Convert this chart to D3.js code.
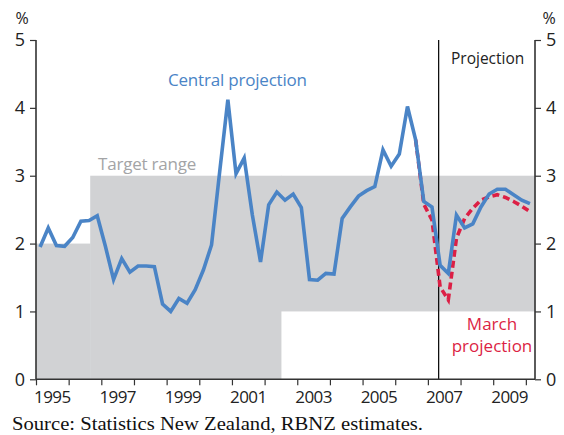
<!DOCTYPE html>
<html>
<head>
<meta charset="utf-8">
<script src="https://cdn.jsdelivr.net/npm/d3@7"></script>
<style>
  body { margin: 0; background: #fff; }
  svg { display: block; }
</style>
</head>
<body>
<script>
// annual CPI inflation, quarterly, 1995Q1 - 2010Q1
const firstQuarter = 1995;
const central = [
  1.95, 2.23, 1.97, 1.96, 2.09, 2.33, 2.34, 2.41,
  1.96, 1.47, 1.78, 1.58, 1.67, 1.67, 1.66, 1.11,
  1.00, 1.19, 1.12, 1.32, 1.61, 1.98, 3.06, 4.12,
  3.03, 3.26, 2.42, 1.73, 2.57, 2.76, 2.64, 2.73,
  2.53, 1.47, 1.46, 1.56, 1.55, 2.37, 2.54, 2.70,
  2.78, 2.84, 3.38, 3.14, 3.32, 4.02, 3.53, 2.62,
  2.54, 1.68, 1.56, 2.42, 2.23, 2.29, 2.54, 2.73,
  2.80, 2.80, 2.72, 2.64, 2.59
];
// March projection starts at 2006Q3 (index 46)
const marchStart = 46;
const march = [
  3.53, 2.58, 2.35, 1.36, 1.17, 2.08, 2.37, 2.52,
  2.64, 2.69, 2.72, 2.68, 2.62, 2.55, 2.47
];
const targetFrom = [1995, 1996.66, 2002.5];
const targetLow = [0, 0, 1];
const targetHigh = [2, 3, 3];
const yTicks = [0, 1, 2, 3, 4, 5];
const yearTicks = d3.range(1995, 2011);
const yearLabels = ['1995', '1997', '1999', '2001', '2003', '2005', '2007', '2009'];
const projectionStart = 2007.33;

const width = 564, height = 435;
const x0 = 36, x1 = 535, yTop = 40, yBot = 379.3;
const xEnd = 2010.28;

const svg = d3.select('body').append('svg').attr('width', width).attr('height', height);

const x = d3.scaleLinear().domain([1995, xEnd]).range([x0, x1]);
const y = d3.scaleLinear().domain([0, 5]).range([yBot, yTop]);

const qTime = function(i) { return firstQuarter + 0.125 + i * 0.25; };

// target range shading
const bands = targetFrom.map(function(f, i) {
  return { from: f, to: i < targetFrom.length - 1 ? targetFrom[i + 1] : xEnd, lo: targetLow[i], hi: targetHigh[i] };
});
svg.append('g').selectAll('rect').data(bands).enter().append('rect')
  .attr('x', function(d) { return x(d.from); })
  .attr('width', function(d) { return x(d.to) - x(d.from) + 0.5; })
  .attr('y', function(d) { return y(d.hi); })
  .attr('height', function(d) { return y(d.lo) - y(d.hi); })
  .attr('fill', '#d1d2d4');

// projection divider
svg.append('line')
  .attr('x1', x(projectionStart)).attr('x2', x(projectionStart))
  .attr('y1', yTop).attr('y2', yBot)
  .attr('stroke', '#000').attr('stroke-width', 1.2);

// lines
const line = d3.line()
  .x(function(d) { return x(d.t); })
  .y(function(d) { return y(d.v); });

const centralPts = central.map(function(v, i) { return { t: qTime(i), v: v }; });
const marchPts = march.map(function(v, i) { return { t: qTime(marchStart + i), v: v }; });

// march drawn first so the central line sits over it
svg.append('path').datum(marchPts)
  .attr('d', line)
  .attr('fill', 'none')
  .attr('stroke', '#dc1f45')
  .attr('stroke-width', 3.6)
  .attr('stroke-dasharray', '7,4');

svg.append('path').datum(centralPts)
  .attr('d', line)
  .attr('fill', 'none')
  .attr('stroke', '#4a84c6')
  .attr('stroke-width', 3.6)
  .attr('stroke-linejoin', 'miter');

// axes
const axisColor = '#333';
const tickFont = 'Open Sans, sans-serif';

const left = svg.append('g').attr('transform', 'translate(' + x0 + ',0)')
  .call(d3.axisLeft(y).tickValues(yTicks).tickSize(6).tickPadding(5).tickFormat(d3.format('d')));
const right = svg.append('g').attr('transform', 'translate(' + x1 + ',0)')
  .call(d3.axisRight(y).tickValues(yTicks).tickSize(6).tickPadding(5).tickFormat(d3.format('d')));
const bottom = svg.append('g').attr('transform', 'translate(0,' + yBot + ')')
  .call(d3.axisBottom(x).tickValues(yearTicks).tickSize(6).tickFormat(''));

[left, right, bottom].forEach(function(g) {
  g.select('.domain').attr('stroke', axisColor).attr('stroke-width', 1.6);
  g.selectAll('.tick line').attr('stroke', axisColor).attr('stroke-width', 1.2);
  g.selectAll('text').attr('font-family', tickFont).attr('font-size', 18).attr('fill', '#222');
});
left.select('.domain').attr('d', 'M0,' + yTop + 'V' + yBot);
right.select('.domain').attr('d', 'M0,' + yTop + 'V' + yBot);
bottom.select('.domain').attr('d', 'M' + x0 + ',0H' + x1);

svg.append('g').selectAll('text').data(yearLabels).enter().append('text')
  .attr('x', function(d) { return x(+d + 0.5); })
  .attr('y', 403)
  .attr('text-anchor', 'middle')
  .attr('font-family', tickFont)
  .attr('font-size', 17)
  .attr('letter-spacing', -0.6)
  .attr('fill', '#222')
  .text(function(d) { return d; });

// % units
svg.append('text').attr('x', 22).attr('y', 24).attr('text-anchor', 'middle')
  .attr('font-family', tickFont).attr('font-size', 16).attr('fill', '#222').text('%');
svg.append('text').attr('x', 549).attr('y', 24).attr('text-anchor', 'middle')
  .attr('font-family', tickFont).attr('font-size', 16).attr('fill', '#222').text('%');

// annotations
svg.append('text').attr('x', 451).attr('y', 64)
  .attr('font-family', tickFont).attr('font-size', 15.5).attr('fill', '#222').text('Projection');
svg.append('text').attr('x', 168).attr('y', 86)
  .attr('font-family', tickFont).attr('font-size', 17).attr('letter-spacing', -0.2)
  .attr('fill', '#4a84c6').text('Central projection');
svg.append('text').attr('x', 98).attr('y', 170)
  .attr('font-family', tickFont).attr('font-size', 17).attr('letter-spacing', -0.2)
  .attr('fill', '#a3a4a6').text('Target range');
svg.append('text').attr('x', 492).attr('y', 330).attr('text-anchor', 'middle')
  .attr('font-family', tickFont).attr('font-size', 17).attr('fill', '#dc1f45').text('March');
svg.append('text').attr('x', 492).attr('y', 352).attr('text-anchor', 'middle')
  .attr('font-family', tickFont).attr('font-size', 17).attr('fill', '#dc1f45').text('projection');

// source
svg.append('text').attr('x', 12).attr('y', 430)
  .attr('font-family', 'Liberation Serif, serif').attr('font-size', 18).attr('fill', '#111')
  .attr('textLength', 411).attr('lengthAdjust', 'spacingAndGlyphs')
  .text('Source: Statistics New Zealand, RBNZ estimates.');
</script>
</body>
</html>
